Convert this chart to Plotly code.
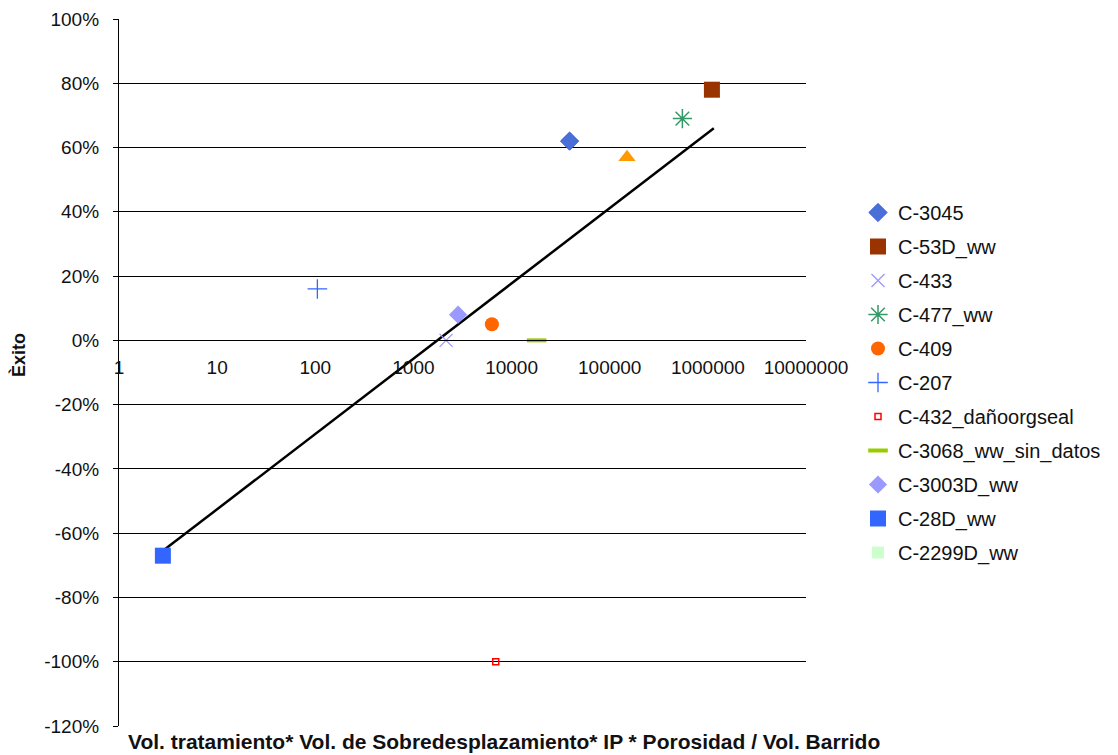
import plotly.graph_objects as go

# ---- data ----
series_names = ["C-3045", "C-53D_ww", "C-433", "C-477_ww", "C-409", "C-207",
                "C-432_dañoorgseal", "C-3068_ww_sin_datos", "C-3003D_ww",
                "C-28D_ww", "C-2299D_ww"]
series_x = [39000, 1100000, 2150, 550000, 6300, 105, 6900, 18000, 2850, 2.8, None]
series_y = [0.62, 0.78, 0.0, 0.69, 0.05, 0.16, -1.0, 0.0, 0.08, -0.67, None]

# unlabeled point (orange triangle, not in legend)
extra_x = [150000]
extra_y = [0.57]

# logarithmic trendline endpoints
trend_x = [2.8, 1150000]
trend_y = [-0.655, 0.66]

x_tickvals = [1, 10, 100, 1000, 10000, 100000, 1000000, 10000000]
x_ticktext = ["1", "10", "100", "1000", "10000", "100000", "1000000", "10000000"]
y_tickvals = [-1.2, -1.0, -0.8, -0.6, -0.4, -0.2, 0.0, 0.2, 0.4, 0.6, 0.8, 1.0]
y_ticktext = ["-120%", "-100%", "-80%", "-60%", "-40%", "-20%", "0%",
              "20%", "40%", "60%", "80%", "100%"]

# ---- styles ----
styles = [
    dict(symbol="diamond", color="#4A6FD6", size=14, line=dict(color="#3355DD", width=1)),
    dict(symbol="square", color="#993300", size=16, line=dict(width=0)),
    dict(symbol="x-thin-open", color="#9999FF", size=13, line=dict(color="#9999FF", width=1.3)),
    dict(symbol="asterisk-open", color="#339966", size=16, line=dict(color="#339966", width=1.5)),
    dict(symbol="circle", color="#FF6600", size=14, line=dict(width=0)),
    dict(symbol="cross-thin-open", color="#3366FF", size=14, line=dict(color="#3366FF", width=1.3)),
    dict(symbol="square-open", color="#FF0000", size=6, line=dict(color="#FF0000", width=1.5)),
    dict(symbol="line-ew-open", color="#99CC00", size=14, line=dict(color="#99CC00", width=4)),
    dict(symbol="diamond", color="#9999FF", size=14, line=dict(width=0)),
    dict(symbol="square", color="#3366FF", size=16, line=dict(width=0)),
    dict(symbol="square", color="#CCFFCC", size=12, line=dict(width=0)),
]

FONT = "Liberation Sans, Arial, sans-serif"

fig = go.Figure()

fig.add_trace(go.Scatter(x=trend_x, y=trend_y, mode="lines",
                         line=dict(color="black", width=2.5),
                         showlegend=False, hoverinfo="skip"))

for i, (name, xv, yv) in enumerate(zip(series_names, series_x, series_y)):
    st = styles[i]
    fig.add_trace(go.Scatter(x=[xv], y=[yv], mode="markers", name=name,
                             legendgroup=name,
                             marker=dict(symbol=st["symbol"], color=st["color"],
                                         size=st["size"], line=st["line"])))

fig.add_trace(go.Scatter(x=extra_x, y=extra_y, mode="markers", showlegend=False,
                         marker=dict(symbol="triangle-up", color="#FF9900", size=15)))

# page body has an 8px margin; work in page pixel coordinates
OFF = 8
W, H = 1118 - OFF, 755 - OFF
PL, PR, PT, PB = 119, 806, 19, 726  # plot area in page pixels
L, T = PL - OFF, PT - OFF
R = W - (PR - OFF)
B = H - (PB - OFF)
PW, PH = PR - PL, PB - PT
ypos0 = (0 - (-1.2)) / 2.2


def px(xp):
    return (xp - PL) / PW


def py(yp):
    return (PB - yp) / PH


fig.update_layout(
    width=W, height=H,
    margin=dict(l=L, r=R, t=T, b=B, autoexpand=False),
    paper_bgcolor="white", plot_bgcolor="white",
    font=dict(family=FONT, size=19, color="#111111"),
    xaxis=dict(type="log", range=[0, 7], tickvals=x_tickvals, ticktext=x_ticktext,
               anchor="free", position=ypos0, showline=True, linecolor="black",
               linewidth=1.2, showgrid=False, zeroline=False,
               ticks="outside", ticklen=1, tickcolor="rgba(0,0,0,0)",
               ticklabelstandoff=9, tickfont=dict(size=19)),
    yaxis=dict(range=[-1.2, 1.0], tickvals=y_tickvals, ticktext=y_ticktext,
               showline=True, linecolor="black", linewidth=1.2,
               showgrid=True, gridcolor="black", gridwidth=1, zeroline=False,
               ticks="outside", ticklen=5, tickcolor="black",
               ticklabelstandoff=10, tickfont=dict(size=19)),
    legend=dict(x=px(858), xanchor="left", y=py(193), yanchor="top",
                font=dict(family=FONT, size=20, color="#111111"),
                tracegroupgap=5, itemwidth=30, bgcolor="rgba(0,0,0,0)"),
    annotations=[
        dict(text="<b>Vol. tratamiento* Vol. de Sobredesplazamiento* IP * Porosidad / Vol. Barrido</b>",
             xref="paper", yref="paper", x=px(504), y=py(741),
             xanchor="center", yanchor="middle", showarrow=False,
             font=dict(family=FONT, size=21, color="#111111")),
        dict(text="<b>Èxito</b>", textangle=-90,
             xref="paper", yref="paper", x=px(18), y=py(355),
             xanchor="center", yanchor="middle", showarrow=False,
             font=dict(family=FONT, size=18, color="#111111")),
    ],
)

fig.write_html("out.html")
